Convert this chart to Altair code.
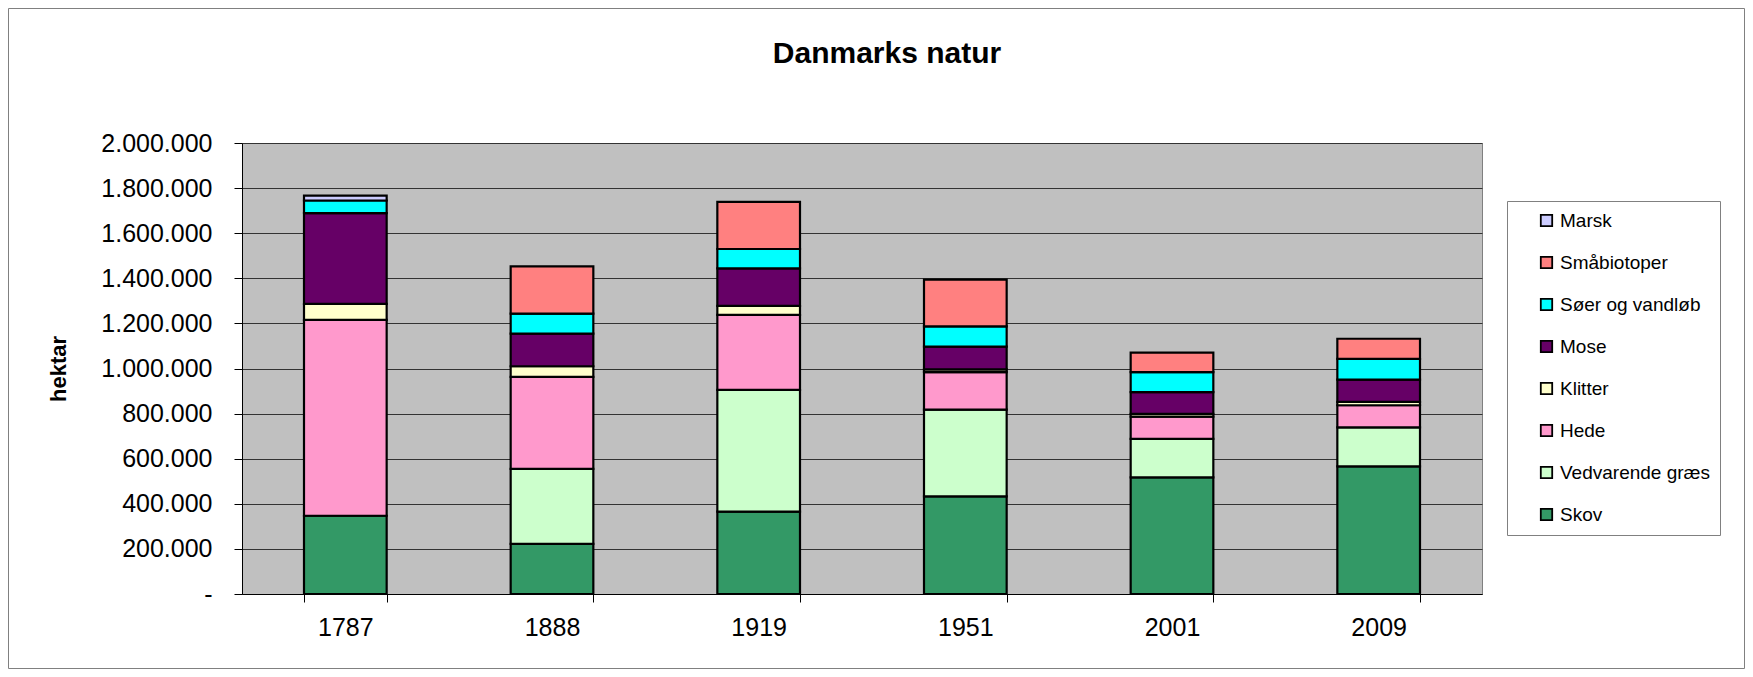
import altair as alt
import pandas as pd

years = ["1787", "1888", "1919", "1951", "2001", "2009"]
series = ["Skov", "Vedvarende græs", "Hede", "Klitter", "Mose", "Søer og vandløb", "Småbiotoper", "Marsk"]
skov = [347000, 222000, 365000, 433000, 517000, 566000]
vedvarende = [0, 333000, 540000, 385000, 171000, 173000]
hede = [869000, 408000, 333000, 166000, 99000, 98000]
klitter = [71000, 47000, 40000, 12000, 12000, 15000]
mose = [402000, 145000, 166000, 101000, 96000, 99000]
soer = [56000, 88000, 86000, 90000, 89000, 92000]
smaabiotoper = [0, 210000, 209000, 207000, 86000, 89000]
marsk = [22000, 0, 0, 0, 0, 0]
colors = ["#339966", "#CCFFCC", "#FF99CC", "#FFFFCC", "#660066", "#00FFFF", "#FF8080", "#CCCCFF"]
y_ticks = [0, 200000, 400000, 600000, 800000, 1000000, 1200000, 1400000, 1600000, 1800000, 2000000]

values = [skov, vedvarende, hede, klitter, mose, soer, smaabiotoper, marsk]
rows = []
for si, (name, vals) in enumerate(zip(series, values)):
    for y, v in zip(years, vals):
        if v > 0:
            rows.append({"år": y, "type": name, "hektar": v, "orden": si})
df = pd.DataFrame(rows)

FONT = "Liberation Sans"
W, H = 1240, 451
PL, PT, PR, PB = 234, 135, 263, 75

frame = alt.Chart(pd.DataFrame({"a": [0]})).mark_rect(
    filled=False, stroke="#808080", strokeWidth=1
).encode(
    x=alt.value(-PL + 0.5), x2=alt.value(W + PR - 0.5),
    y=alt.value(-PT + 0.5), y2=alt.value(H + PB - 0.5),
)

bars = alt.Chart(df).mark_bar(stroke="black", strokeWidth=2.2).encode(
    x=alt.X("år:N", sort=years, title=None,
            scale=alt.Scale(paddingInner=0.6, paddingOuter=0.3),
            axis=alt.Axis(labelAngle=0, labelFont=FONT, labelFontSize=25, labelColor="black",
                          domainColor="black", domainWidth=1, tickColor="black", tickSize=8,
                          tickBand="extent", labelPadding=13, grid=False)),
    y=alt.Y("hektar:Q", stack="zero",
            scale=alt.Scale(domain=[0, 2000000], nice=False),
            axis=alt.Axis(values=y_ticks, title="hektar", titleFont=FONT, titleFontSize=22,
                          titleFontWeight="bold", titleColor="black", titleX=-172, titleY=H / 2,
                          labelFont=FONT, labelFontSize=25, labelColor="black",
                          labelExpr="datum.value == 0 ? '-' : replace(replace(datum.label, ',', '.'), ',', '.')",
                          domainColor="black", tickColor="black", tickSize=8, labelPadding=22,
                          grid=True, gridColor="#333333", gridWidth=1)),
    color=alt.Color("type:N",
                    scale=alt.Scale(domain=series[::-1], range=colors[::-1]),
                    legend=alt.Legend(title=None, orient="none", legendX=1265, legendY=58,
                                      labelFont=FONT, labelFontSize=19, labelColor="black",
                                      symbolType="square", symbolSize=130, symbolStrokeColor="black",
                                      symbolStrokeWidth=1.8, symbolOpacity=1, symbolOffset=20,
                                      strokeColor="#808080", fillColor="white", padding=10,
                                      rowPadding=22, labelOffset=4)),
    order=alt.Order("orden:Q", sort="ascending"),
)

chart = alt.layer(frame, bars).properties(
    width=W, height=H, background="white",
    title=alt.TitleParams("Danmarks natur", font=FONT, fontSize=30, fontWeight="bold",
                          color="black", anchor="middle", frame="group", dx=25,
                          baseline="middle", offset=-76),
    autosize=alt.AutoSizeParams(type="none"),
    padding={"left": PL, "top": PT, "right": PR, "bottom": PB},
).configure_view(fill="#C0C0C0", stroke="#808080")

chart.save("out.html", embed_options={"renderer": "svg", "actions": False})
